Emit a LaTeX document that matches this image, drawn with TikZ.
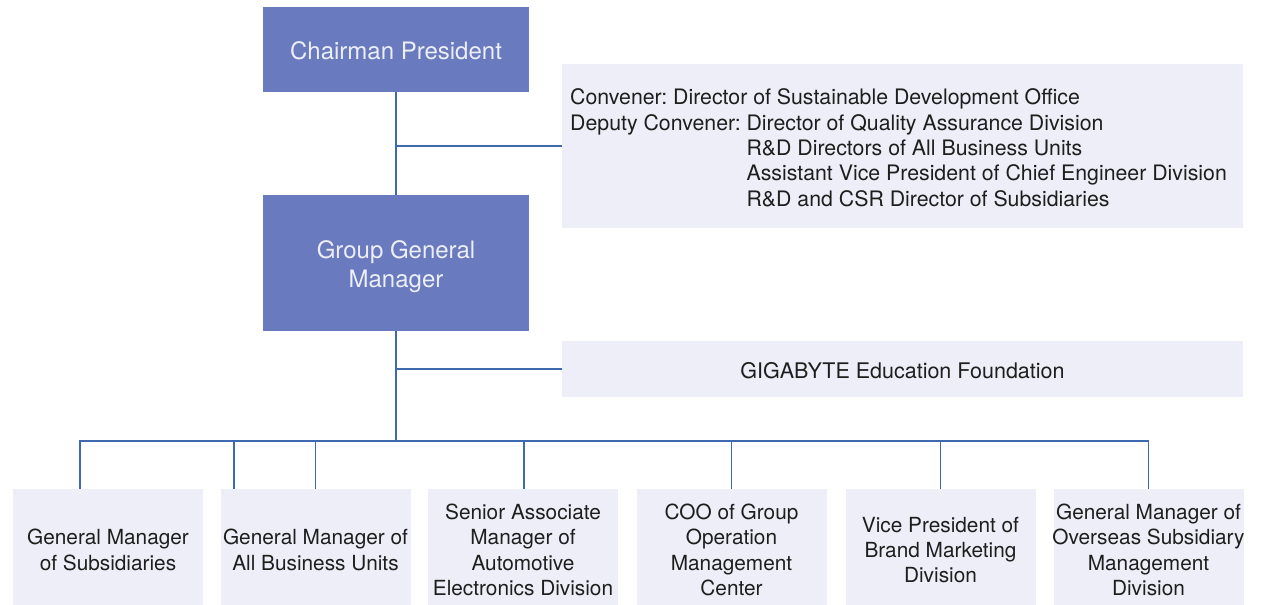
\documentclass[tikz,border=0pt]{standalone}
\usepackage{fontspec}
\setmainfont{TeX Gyre Heros}
\frenchspacing
\begin{document}
\definecolor{headfill}{RGB}{105,122,190}
\definecolor{headtext}{RGB}{236,238,248}
\definecolor{panelfill}{RGB}{238,238,248}
\definecolor{bodytext}{RGB}{30,30,30}
\definecolor{linkblue}{RGB}{60,105,175}
\begin{tikzpicture}[x=1pt,y=-1pt,
  headbox/.style={fill=headfill, minimum width=266pt, inner sep=0pt},
  headlabel/.style={text=headtext, inner sep=0pt, align=center, font=\fontsize{24}{29}\selectfont},
  panel/.style={fill=panelfill, minimum width=681pt, inner sep=0pt},
  unitbox/.style={fill=panelfill, minimum width=190pt, minimum height=116pt, inner sep=0pt},
  unitlabel/.style={text=bodytext, inner sep=0pt, align=center, font=\fontsize{20.8}{25.3}\selectfont},
  link/.style={draw=linkblue, line width=1.2pt}]
\useasboundingbox (0,0) rectangle (1267,605);

% top of the chart
\node[headbox, minimum height=85pt] (chair) at (396,49.5) {};
\node[headlabel] (chairtext) at (396,51) {Chairman President};
\node[headbox, minimum height=136pt] (ggm) at (396,263) {};
\node[headlabel] (ggmtext) at (396,267) {Group General\\Manager};

% committee panel and foundation panel
\node[panel, minimum height=164pt] (conv) at (902.5,146) {};
\node[anchor=west, inner sep=0pt, text=bodytext, font=\fontsize{21.3}{25.3}\selectfont] (convtext) at (570,150.5) {%
  \begin{tabular}{@{}l@{\ }l@{}}
  \multicolumn{2}{@{}l@{}}{Convener: Director of Sustainable Development Office}\\
  Deputy Convener: & Director of Quality Assurance Division\\
   & R\&D Directors of All Business Units\\
   & Assistant Vice President of Chief Engineer Division\\
   & R\&D and CSR Director of Subsidiaries
  \end{tabular}};
\node[panel, minimum height=56pt] (found) at (902.5,369) {};
\node[unitlabel, font=\fontsize{21.5}{25.5}\selectfont] (foundtext) at (902.5,371) {GIGABYTE Education Foundation};

% bottom row of units
\node[unitbox] (b1) at (108,547) {};
\node[unitbox] (b2) at (315.5,547) {};
\node[unitbox] (b3) at (523,547) {};
\node[unitbox] (b4) at (731.5,547) {};
\node[unitbox] (b5) at (940.5,547) {};
\node[unitbox] (b6) at (1148.5,547) {};
\node[unitlabel] (t1) at (108,550) {General Manager\\of Subsidiaries};
\node[unitlabel] (t2) at (315.5,550) {General Manager of\\All Business Units};
\node[unitlabel] (t3) at (523,550) {Senior Associate\\Manager of\\Automotive\\Electronics Division};
\node[unitlabel] (t4) at (731.5,550) {COO of Group\\Operation\\Management\\Center};
\node[unitlabel] (t5) at (940.5,550) {Vice President of\\Brand Marketing\\Division};
\node[unitlabel] (t6) at (1148.5,550) {General Manager of\\Overseas Subsidiary\\Management\\Division};

\coordinate (bus) at (396,441);

% connectors
\draw[link] (chair.south) -- (ggm.north);
\draw[link] (chair.south |- conv.west) -- (conv.west);
\draw[link] (ggm.south) -- (bus);
\draw[link] (ggm.south |- found.west) -- (found.west);
\draw[link] ([xshift=-28pt]b1.north) |- (bus);
\draw[link] (b6.north) |- (bus);
\draw[link] ([xshift=-81.5pt]b2.north) -- ([xshift=-81.5pt]b2.north |- bus);
\draw[link] (b2.north) -- (b2.north |- bus);
\draw[link] ([xshift=1pt]b3.north) -- ([xshift=1pt]b3.north |- bus);
\draw[link] (b4.north) -- (b4.north |- bus);
\draw[link] (b5.north) -- (b5.north |- bus);
\end{tikzpicture}
\end{document}
